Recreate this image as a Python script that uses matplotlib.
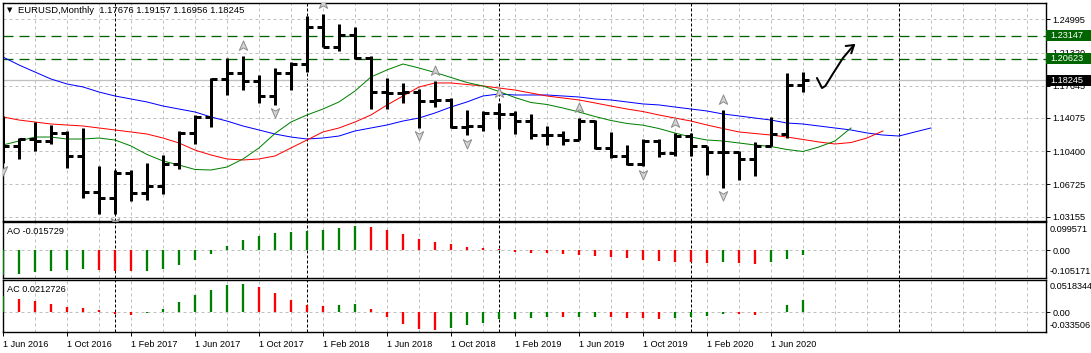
import numpy as np
import matplotlib.pyplot as plt
import matplotlib.transforms as mtransforms
from matplotlib.path import Path
from matplotlib.patches import Rectangle

plt.rcParams['font.family'] = ['Liberation Sans', 'DejaVu Sans']
plt.rcParams['lines.scale_dashes'] = False

W, H, DPI = 1091, 353, 100
PX = 72 / DPI  # points per pixel

# monthly bars, first one is Jun 2016
opens = [1.1130, 1.1103, 1.1175, 1.1157, 1.1240, 1.0982, 1.0587, 1.0517, 1.0796, 1.0575,
         1.0652, 1.0895, 1.1244, 1.1424, 1.1843, 1.1906, 1.1814, 1.1646, 1.1904, 1.2005,
         1.2414, 1.2193, 1.2324, 1.2075, 1.1693, 1.1684, 1.1690, 1.1601, 1.1604, 1.1311,
         1.1316, 1.1467, 1.1447, 1.1372, 1.1217, 1.1214, 1.1169, 1.1370, 1.1075, 1.0988,
         1.0899, 1.1152, 1.1017, 1.1212, 1.1094, 1.1027, 1.1031, 1.0955, 1.1100, 1.1234,
         1.17676]
highs = [1.1428, 1.1186, 1.1366, 1.1328, 1.1261, 1.1300, 1.0874, 1.0829, 1.0829, 1.0906,
         1.0995, 1.1268, 1.1446, 1.1846, 1.2070, 1.2092, 1.1880, 1.1961, 1.2023, 1.2537,
         1.2556, 1.2446, 1.2414, 1.2097, 1.1852, 1.1791, 1.1733, 1.1815, 1.1625, 1.1500,
         1.1486, 1.1570, 1.1488, 1.1448, 1.1324, 1.1264, 1.1412, 1.1390, 1.1250, 1.1110,
         1.1179, 1.1176, 1.1240, 1.1239, 1.1097, 1.1495, 1.1040, 1.1147, 1.1422, 1.1908,
         1.19157]
lows = [1.0912, 1.0952, 1.1046, 1.1122, 1.0852, 1.0520, 1.0340, 1.0340, 1.0494, 1.0495,
        1.0570, 1.0839, 1.1119, 1.1312, 1.1662, 1.1717, 1.1574, 1.1554, 1.1718, 1.1915,
        1.2190, 1.2154, 1.2055, 1.1510, 1.1508, 1.1575, 1.1301, 1.1526, 1.1302, 1.1216,
        1.1269, 1.1289, 1.1234, 1.1176, 1.1110, 1.1106, 1.1169, 1.1070, 1.0965, 1.0887,
        1.0876, 1.0981, 1.0982, 1.0992, 1.0778, 1.0636, 1.0727, 1.0766, 1.1100, 1.1186,
        1.16956]
closes = [1.1103, 1.1175, 1.1157, 1.1240, 1.0982, 1.0587, 1.0517, 1.0796, 1.0575, 1.0652,
          1.0895, 1.1244, 1.1424, 1.1843, 1.1906, 1.1814, 1.1646, 1.1904, 1.2005, 1.2414,
          1.2193, 1.2324, 1.2075, 1.1693, 1.1684, 1.1690, 1.1601, 1.1604, 1.1311, 1.1316,
          1.1467, 1.1447, 1.1372, 1.1217, 1.1214, 1.1169, 1.1370, 1.1075, 1.0988, 1.0899,
          1.1152, 1.1017, 1.1212, 1.1094, 1.1027, 1.1031, 1.0955, 1.1100, 1.1234, 1.1778,
          1.18245]

# alligator lines (jaw / teeth / lips), they run past the last bar
jaw = [1.2082, 1.1994, 1.1916, 1.1839, 1.1784, 1.1751, 1.1695, 1.1651, 1.1618, 1.1585,
       1.1540, 1.1507, 1.1474, 1.1419, 1.1374, 1.1319, 1.1275, 1.1230, 1.1197, 1.1175,
       1.1186, 1.1208, 1.1264, 1.1297, 1.1330, 1.1374, 1.1407, 1.1463, 1.1529, 1.1585,
       1.1651, 1.1673, 1.1662, 1.1662, 1.1662, 1.1651, 1.1640, 1.1618, 1.1607, 1.1585,
       1.1563, 1.1552, 1.1529, 1.1507, 1.1485, 1.1452, 1.1430, 1.1407, 1.1385, 1.1352,
       1.1341, 1.1319, 1.1297, 1.1275, 1.1242, 1.1219, 1.1208, 1.1253, 1.1297]
teeth = [1.1419, 1.1385, 1.1363, 1.1341, 1.1330, 1.1319, 1.1297, 1.1275, 1.1253, 1.1230,
         1.1186, 1.1131, 1.1053, 1.0998, 1.0954, 1.0943, 1.0954, 1.0987, 1.1076, 1.1164,
         1.1253, 1.1297, 1.1363, 1.1441, 1.1551, 1.1651, 1.1750, 1.1795, 1.1795, 1.1778,
         1.1762, 1.1739, 1.1717, 1.1684, 1.1651, 1.1629, 1.1607, 1.1574, 1.1540, 1.1507,
         1.1479, 1.1441, 1.1407, 1.1374, 1.1330, 1.1291, 1.1253, 1.1236, 1.1219, 1.1197,
         1.1170, 1.1142, 1.1120, 1.1136, 1.1186, 1.1264]
lips = [1.1109, 1.1153, 1.1197, 1.1197, 1.1175, 1.1175, 1.1186, 1.1164, 1.1098, 1.1004,
        1.0932, 1.0887, 1.0838, 1.0832, 1.0865, 1.0954, 1.1076, 1.1236, 1.1363, 1.1441,
        1.1507, 1.1585, 1.1706, 1.1861, 1.1939, 1.2005, 1.1961, 1.1911, 1.1856, 1.1800,
        1.1762, 1.1701, 1.1634, 1.1579, 1.1557, 1.1518, 1.1474, 1.1424, 1.1380, 1.1347,
        1.1328, 1.1291, 1.1241, 1.1197, 1.1164, 1.1153, 1.1131, 1.1109, 1.1092, 1.1059,
        1.1037, 1.1087, 1.1153, 1.1297]

ao = [-0.0914, -0.0866, -0.0793, -0.0742, -0.0706, -0.0700, -0.0712, -0.0745, -0.0748, -0.0740,
      -0.0669, -0.0523, -0.0340, -0.0121, 0.0157, 0.0377, 0.0523, 0.0632, 0.0669, 0.0720,
      0.0742, 0.0815, 0.0888, 0.0852, 0.0757, 0.0596, 0.0413, 0.0303, 0.0230, 0.0121,
      0.0084, 0.0037, -0.0062, -0.0099, -0.0101, -0.0135, -0.0172, -0.0194, -0.0245, -0.0282,
      -0.0355, -0.0391, -0.0428, -0.0430, -0.0464, -0.0428, -0.0464, -0.0501, -0.0428, -0.0318,
      -0.015729]
ac = [0.0263, 0.0218, 0.0185, 0.0136, 0.0087, 0.0071, 0.0038, -0.0028, -0.0044, -0.0008,
      0.0054, 0.0169, 0.0284, 0.0366, 0.0448, 0.0464, 0.0415, 0.0317, 0.0202, 0.0120,
      0.0103, 0.0120, 0.0136, 0.0054, -0.0077, -0.0192, -0.0274, -0.0290, -0.0258, -0.0208,
      -0.0176, -0.0110, -0.0105, -0.0094, -0.0077, -0.0080, -0.0076, -0.0074, -0.0079, -0.0092,
      -0.0095, -0.0110, -0.0094, -0.0066, -0.0061, -0.0028, -0.0030, -0.0044, 0.0016, 0.0120,
      0.0212726]

up_fractals = [15, 20, 27, 31, 36, 42, 45]
down_fractals = [0, 7, 17, 26, 29, 40, 45]

price_ticks = [1.24995, 1.21320, 1.17645, 1.14075, 1.10400, 1.06725, 1.03155]
levels = [1.23147, 1.20623]
bid = closes[-1]

date_bars = list(range(0, 49, 4))
date_labels = ['1 Jun 2016', '1 Oct 2016', '1 Feb 2017', '1 Jun 2017', '1 Oct 2017',
               '1 Feb 2018', '1 Jun 2018', '1 Oct 2018', '1 Feb 2019', '1 Jun 2019',
               '1 Oct 2019', '1 Feb 2020', '1 Jun 2020']
separators = [7, 19, 31, 43, 56]

# hand drawn arrow (bar index, price)
arrow_x = [50.875, 51.0, 51.19, 51.4, 51.9, 52.5, 53.19]
arrow_y = [1.1850, 1.1806, 1.1739, 1.1762, 1.1905, 1.2071, 1.2215]
wing_x = [52.67, 53.19, 53.02]
wing_y = [1.2204, 1.2215, 1.2123]

GRID = '#C0C0C0'
GREEN = '#008000'
DKGREEN = '#006400'
FS = 6.6


def rect(x0, y0, x1, y1):
    return [x0 / W, 1 - y1 / H, (x1 - x0) / W, (y1 - y0) / H]


fig = plt.figure(figsize=(W / DPI, H / DPI), dpi=DPI)
ax = fig.add_axes(rect(2.5, 3, 1045.5, 221))
ao_ax = fig.add_axes(rect(2.5, 222, 1045.5, 278))
ac_ax = fig.add_axes(rect(2.5, 280, 1045.5, 332))

for a in (ax, ao_ax, ac_ax):
    a.set_xlim(-0.03, 65.16)
    for s in a.spines.values():
        s.set_linewidth(1.0)
        s.set_color('black')
    a.yaxis.tick_right()
    a.tick_params(axis='y', direction='out', length=3, width=0.7, pad=2, labelsize=FS)
    for i in range(2, 66, 2):
        a.axvline(i, color=GRID, lw=PX, ls=(0, (3 * PX, 3 * PX)), zorder=0)
    for s in separators:
        a.axvline(s, color='black', lw=PX, ls=(0, (3 * PX, 2 * PX)), zorder=1)

# ---- main price panel ----
ax.set_ylim(1.02679, 1.26798)
ax.set_xticks([])
ax.set_yticks(price_ticks)
ax.set_yticklabels([f'{p:.5f}' for p in price_ticks])
for p in price_ticks:
    ax.axhline(p, color=GRID, lw=PX, ls=(0, (3 * PX, 3 * PX)), zorder=0)
for p in levels:
    ax.axhline(p, color=DKGREEN, lw=1.3 * PX, ls=(0, (10 * PX, 6 * PX)), zorder=1)
ax.axhline(bid, color=GRID, lw=1.3 * PX, zorder=1)

ax.plot(np.arange(len(jaw)), jaw, color='#0000FF', lw=PX, zorder=2)
ax.plot(np.arange(len(teeth)), teeth, color='#FF0000', lw=PX, zorder=2)
ax.plot(np.arange(len(lips)), lips, color=GREEN, lw=PX, zorder=2)

x = np.arange(len(opens))
bw = 3 * PX
ax.vlines(x, lows, highs, color='black', lw=bw, zorder=3)
ax.hlines(opens, x - 0.36, x, color='black', lw=bw, zorder=3)
ax.hlines(closes, x, x + 0.36, color='black', lw=bw, zorder=3)

up_mark = Path([(0, 1), (0.75, -0.7), (0, -0.25), (-0.75, -0.7), (0, 1)],
               [Path.MOVETO, Path.LINETO, Path.LINETO, Path.LINETO, Path.CLOSEPOLY])
down_mark = Path([(0, -1), (0.75, 0.7), (0, 0.25), (-0.75, 0.7), (0, -1)],
                 [Path.MOVETO, Path.LINETO, Path.LINETO, Path.LINETO, Path.CLOSEPOLY])
ppx = (1.26798 - 1.02679) / 218
ax.plot(up_fractals, [highs[i] + 10 * ppx for i in up_fractals], ls='none', marker=up_mark,
        ms=8, mfc='#D4D4D4', mec='#8C8C8C', mew=0.7, zorder=4)
ax.plot(down_fractals, [lows[i] - 7.5 * ppx for i in down_fractals], ls='none', marker=down_mark,
        ms=8, mfc='#D4D4D4', mec='#8C8C8C', mew=0.7, zorder=4)

ax.plot(arrow_x, arrow_y, color='black', lw=2 * PX, zorder=5, solid_capstyle='round',
        solid_joinstyle='round')
ax.plot(wing_x, wing_y, color='black', lw=2 * PX, zorder=5, solid_capstyle='round',
        solid_joinstyle='round')

blend = mtransforms.blended_transform_factory(fig.transFigure, ax.transData)
for p, fc in [(levels[0], DKGREEN), (levels[1], DKGREEN), (bid, 'black')]:
    r = Rectangle((1045.5 / W, p - 5.5 * ppx), 45 / W, 11 * ppx, transform=blend,
                  facecolor=fc, edgecolor='none', zorder=6, clip_on=False)
    ax.add_patch(r)
    ax.text(1050 / W, p, f'{p:.5f}', transform=blend, color='white', fontsize=FS,
            va='center', ha='left', zorder=7, clip_on=False)

fig.text(7 / W, 1 - 10.5 / H, '\u25BC', fontsize=5, family='DejaVu Sans', va='center', ha='left')
fig.text(18 / W, 1 - 10.5 / H,
         f'EURUSD,Monthly  {opens[-1]:.5f} {highs[-1]:.5f} {lows[-1]:.5f} {closes[-1]:.5f}',
         fontsize=FS + 0.2, va='center', ha='left')

# ---- AO ----
ao_cols = [GREEN] + [GREEN if ao[i] > ao[i - 1] else '#FF0000' for i in range(1, len(ao))]
ao_ax.set_ylim(-0.1013, 0.1035)
ao_ax.set_xticks([])
ao_ax.axhline(0, color=GRID, lw=PX, ls=(0, (3 * PX, 3 * PX)), zorder=0)
ao_ax.vlines(np.arange(len(ao)), 0, ao, colors=ao_cols, lw=2.3 * PX, zorder=3)
ao_ax.set_yticks([0])
ao_ax.set_yticklabels(['0.00'])
ao_ax.text(1.0 + 4 / 1043, (278 - 230) / 56, '0.099571', transform=ao_ax.transAxes,
           fontsize=FS, va='center', ha='left')
ao_ax.text(1.0 + 4 / 1043, (278 - 271.5) / 56, '-0.105171', transform=ao_ax.transAxes,
           fontsize=FS, va='center', ha='left')
ao_ax.text(4.5 / 1043, (278 - 232) / 56, f'AO {ao[-1]:.6f}', transform=ao_ax.transAxes,
           fontsize=FS, va='center', ha='left')

# ---- AC ----
ac_cols = [GREEN] + [GREEN if ac[i] > ac[i - 1] else '#FF0000' for i in range(1, len(ac))]
ac_ax.set_ylim(-0.0320, 0.0533)
ac_ax.axhline(0, color=GRID, lw=PX, ls=(0, (3 * PX, 3 * PX)), zorder=0)
ac_ax.vlines(np.arange(len(ac)), 0, ac, colors=ac_cols, lw=2.3 * PX, zorder=3)
ac_ax.set_yticks([0])
ac_ax.set_yticklabels(['0.00'])
ac_ax.text(1.0 + 4 / 1043, (332 - 286.7) / 52, '0.0518344', transform=ac_ax.transAxes,
           fontsize=FS, va='center', ha='left')
ac_ax.text(1.0 + 4 / 1043, (332 - 325) / 52, '-0.033506', transform=ac_ax.transAxes,
           fontsize=FS, va='center', ha='left')
ac_ax.text(4.5 / 1043, (332 - 289) / 52, f'AC {ac[-1]:.7f}', transform=ac_ax.transAxes,
           fontsize=FS, va='center', ha='left')

ac_ax.set_xticks(date_bars)
ac_ax.set_xticklabels(date_labels, ha='left')
ac_ax.tick_params(axis='x', direction='out', length=3, width=0.7, pad=2.5, labelsize=FS)

fig.savefig('out.png', dpi=DPI)
